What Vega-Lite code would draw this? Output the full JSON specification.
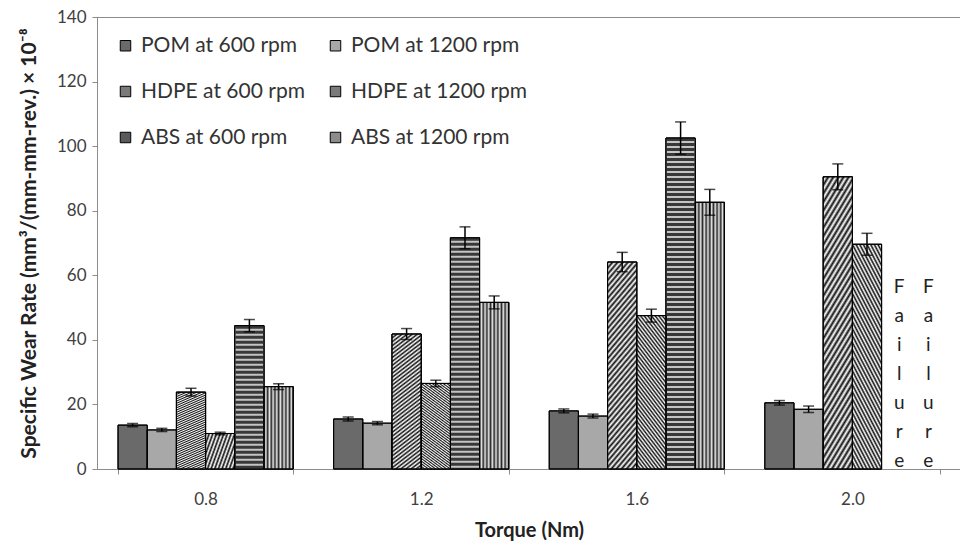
{
  "$schema": "https://vega.github.io/schema/vega-lite/v6.json",
  "width": 864,
  "height": 452,
  "autosize": "none",
  "padding": {"left": 97, "top": 17, "right": 0, "bottom": 76},
  "background": "white",
  "config": {
    "font": "Lato",
    "view": {"stroke": "#8c8c8c", "strokeWidth": 1},
    "axis": {
      "domainColor": "#8c8c8c",
      "tickColor": "#8c8c8c",
      "tickSize": 5,
      "labelFont": "Lato",
      "labelFontSize": 17,
      "labelColor": "#404040",
      "titleFont": "Lato",
      "titleFontSize": 20,
      "titleFontWeight": "bold",
      "titleColor": "#222222",
      "grid": false
    }
  },
  "params": [
    {"name": "gH6", "value": {"gradient": "linear", "x1": 0, "y1": 0, "x2": 0.189, "y2": 1.135, "stops": [{"offset":0,"color":"#111"},{"offset":0.0125,"color":"#fff"},{"offset":0.025,"color":"#111"},{"offset":0.0375,"color":"#fff"},{"offset":0.05,"color":"#111"},{"offset":0.0625,"color":"#fff"},{"offset":0.075,"color":"#111"},{"offset":0.0875,"color":"#fff"},{"offset":0.1,"color":"#111"},{"offset":0.1125,"color":"#fff"},{"offset":0.125,"color":"#111"},{"offset":0.1375,"color":"#fff"},{"offset":0.15,"color":"#111"},{"offset":0.1625,"color":"#fff"},{"offset":0.175,"color":"#111"},{"offset":0.1875,"color":"#fff"},{"offset":0.2,"color":"#111"},{"offset":0.2125,"color":"#fff"},{"offset":0.225,"color":"#111"},{"offset":0.2375,"color":"#fff"},{"offset":0.25,"color":"#111"},{"offset":0.2625,"color":"#fff"},{"offset":0.275,"color":"#111"},{"offset":0.2875,"color":"#fff"},{"offset":0.3,"color":"#111"},{"offset":0.3125,"color":"#fff"},{"offset":0.325,"color":"#111"},{"offset":0.3375,"color":"#fff"},{"offset":0.35,"color":"#111"},{"offset":0.3625,"color":"#fff"},{"offset":0.375,"color":"#111"},{"offset":0.3875,"color":"#fff"},{"offset":0.4,"color":"#111"},{"offset":0.4125,"color":"#fff"},{"offset":0.425,"color":"#111"},{"offset":0.4375,"color":"#fff"},{"offset":0.45,"color":"#111"},{"offset":0.4625,"color":"#fff"},{"offset":0.475,"color":"#111"},{"offset":0.4875,"color":"#fff"},{"offset":0.5,"color":"#111"},{"offset":0.5125,"color":"#fff"},{"offset":0.525,"color":"#111"},{"offset":0.5375,"color":"#fff"},{"offset":0.55,"color":"#111"},{"offset":0.5625,"color":"#fff"},{"offset":0.575,"color":"#111"},{"offset":0.5875,"color":"#fff"},{"offset":0.6,"color":"#111"},{"offset":0.6125,"color":"#fff"},{"offset":0.625,"color":"#111"},{"offset":0.6375,"color":"#fff"},{"offset":0.65,"color":"#111"},{"offset":0.6625,"color":"#fff"},{"offset":0.675,"color":"#111"},{"offset":0.6875,"color":"#fff"},{"offset":0.7,"color":"#111"},{"offset":0.7125,"color":"#fff"},{"offset":0.725,"color":"#111"},{"offset":0.7375,"color":"#fff"},{"offset":0.75,"color":"#111"},{"offset":0.7625,"color":"#fff"},{"offset":0.775,"color":"#111"},{"offset":0.7875,"color":"#fff"},{"offset":0.8,"color":"#111"},{"offset":0.8125,"color":"#fff"},{"offset":0.825,"color":"#111"},{"offset":0.8375,"color":"#fff"},{"offset":0.85,"color":"#111"},{"offset":0.8625,"color":"#fff"},{"offset":0.875,"color":"#111"},{"offset":0.8875,"color":"#fff"},{"offset":0.9,"color":"#111"},{"offset":0.9125,"color":"#fff"},{"offset":0.925,"color":"#111"},{"offset":0.9375,"color":"#fff"},{"offset":0.95,"color":"#111"},{"offset":0.9625,"color":"#fff"},{"offset":0.975,"color":"#111"},{"offset":0.9875,"color":"#fff"},{"offset":1,"color":"#111"}]}},
    {"name": "gH12", "value": {"gradient": "linear", "x1": 0, "y1": 1, "x2": 0.294, "y2": -0.176, "stops": [{"offset":0,"color":"#111"},{"offset":0.0125,"color":"#fff"},{"offset":0.025,"color":"#111"},{"offset":0.0375,"color":"#fff"},{"offset":0.05,"color":"#111"},{"offset":0.0625,"color":"#fff"},{"offset":0.075,"color":"#111"},{"offset":0.0875,"color":"#fff"},{"offset":0.1,"color":"#111"},{"offset":0.1125,"color":"#fff"},{"offset":0.125,"color":"#111"},{"offset":0.1375,"color":"#fff"},{"offset":0.15,"color":"#111"},{"offset":0.1625,"color":"#fff"},{"offset":0.175,"color":"#111"},{"offset":0.1875,"color":"#fff"},{"offset":0.2,"color":"#111"},{"offset":0.2125,"color":"#fff"},{"offset":0.225,"color":"#111"},{"offset":0.2375,"color":"#fff"},{"offset":0.25,"color":"#111"},{"offset":0.2625,"color":"#fff"},{"offset":0.275,"color":"#111"},{"offset":0.2875,"color":"#fff"},{"offset":0.3,"color":"#111"},{"offset":0.3125,"color":"#fff"},{"offset":0.325,"color":"#111"},{"offset":0.3375,"color":"#fff"},{"offset":0.35,"color":"#111"},{"offset":0.3625,"color":"#fff"},{"offset":0.375,"color":"#111"},{"offset":0.3875,"color":"#fff"},{"offset":0.4,"color":"#111"},{"offset":0.4125,"color":"#fff"},{"offset":0.425,"color":"#111"},{"offset":0.4375,"color":"#fff"},{"offset":0.45,"color":"#111"},{"offset":0.4625,"color":"#fff"},{"offset":0.475,"color":"#111"},{"offset":0.4875,"color":"#fff"},{"offset":0.5,"color":"#111"},{"offset":0.5125,"color":"#fff"},{"offset":0.525,"color":"#111"},{"offset":0.5375,"color":"#fff"},{"offset":0.55,"color":"#111"},{"offset":0.5625,"color":"#fff"},{"offset":0.575,"color":"#111"},{"offset":0.5875,"color":"#fff"},{"offset":0.6,"color":"#111"},{"offset":0.6125,"color":"#fff"},{"offset":0.625,"color":"#111"},{"offset":0.6375,"color":"#fff"},{"offset":0.65,"color":"#111"},{"offset":0.6625,"color":"#fff"},{"offset":0.675,"color":"#111"},{"offset":0.6875,"color":"#fff"},{"offset":0.7,"color":"#111"},{"offset":0.7125,"color":"#fff"},{"offset":0.725,"color":"#111"},{"offset":0.7375,"color":"#fff"},{"offset":0.75,"color":"#111"},{"offset":0.7625,"color":"#fff"},{"offset":0.775,"color":"#111"},{"offset":0.7875,"color":"#fff"},{"offset":0.8,"color":"#111"},{"offset":0.8125,"color":"#fff"},{"offset":0.825,"color":"#111"},{"offset":0.8375,"color":"#fff"},{"offset":0.85,"color":"#111"},{"offset":0.8625,"color":"#fff"},{"offset":0.875,"color":"#111"},{"offset":0.8875,"color":"#fff"},{"offset":0.9,"color":"#111"},{"offset":0.9125,"color":"#fff"},{"offset":0.925,"color":"#111"},{"offset":0.9375,"color":"#fff"},{"offset":0.95,"color":"#111"},{"offset":0.9625,"color":"#fff"},{"offset":0.975,"color":"#111"},{"offset":0.9875,"color":"#fff"},{"offset":1,"color":"#111"}]}},
    {"name": "gA12", "value": {"gradient": "linear", "x1": 0, "y1": 0, "x2": 1, "y2": 0, "stops": [{"offset":0,"color":"#2b2b2b"},{"offset":0.0625,"color":"#e6e6e6"},{"offset":0.125,"color":"#2b2b2b"},{"offset":0.1875,"color":"#e6e6e6"},{"offset":0.25,"color":"#2b2b2b"},{"offset":0.3125,"color":"#e6e6e6"},{"offset":0.375,"color":"#2b2b2b"},{"offset":0.4375,"color":"#e6e6e6"},{"offset":0.5,"color":"#2b2b2b"},{"offset":0.5625,"color":"#e6e6e6"},{"offset":0.625,"color":"#2b2b2b"},{"offset":0.6875,"color":"#e6e6e6"},{"offset":0.75,"color":"#2b2b2b"},{"offset":0.8125,"color":"#e6e6e6"},{"offset":0.875,"color":"#2b2b2b"},{"offset":0.9375,"color":"#e6e6e6"},{"offset":1,"color":"#2b2b2b"}]}}
  ],
  "datasets": {
    "bars": [
      {"torque": "0.8", "series": "POM at 600 rpm", "rate": 13.6, "lo": 13.1, "hi": 14.1},
      {"torque": "0.8", "series": "POM at 1200 rpm", "rate": 12.1, "lo": 11.6, "hi": 12.6},
      {"torque": "0.8", "series": "HDPE at 600 rpm", "rate": 23.8, "lo": 22.6, "hi": 25.0},
      {"torque": "0.8", "series": "HDPE at 1200 rpm", "rate": 11.0, "lo": 10.6, "hi": 11.4},
      {"torque": "0.8", "series": "ABS at 600 rpm", "rate": 44.4, "lo": 42.5, "hi": 46.3},
      {"torque": "0.8", "series": "ABS at 1200 rpm", "rate": 25.5, "lo": 24.6, "hi": 26.4},
      {"torque": "1.2", "series": "POM at 600 rpm", "rate": 15.5, "lo": 14.9, "hi": 16.1},
      {"torque": "1.2", "series": "POM at 1200 rpm", "rate": 14.2, "lo": 13.7, "hi": 14.7},
      {"torque": "1.2", "series": "HDPE at 600 rpm", "rate": 41.8, "lo": 40.1, "hi": 43.5},
      {"torque": "1.2", "series": "HDPE at 1200 rpm", "rate": 26.5, "lo": 25.5, "hi": 27.5},
      {"torque": "1.2", "series": "ABS at 600 rpm", "rate": 71.6, "lo": 68.2, "hi": 75.0},
      {"torque": "1.2", "series": "ABS at 1200 rpm", "rate": 51.6, "lo": 49.6, "hi": 53.6},
      {"torque": "1.6", "series": "POM at 600 rpm", "rate": 18.0, "lo": 17.4, "hi": 18.6},
      {"torque": "1.6", "series": "POM at 1200 rpm", "rate": 16.4, "lo": 15.8, "hi": 17.0},
      {"torque": "1.6", "series": "HDPE at 600 rpm", "rate": 64.1, "lo": 61.1, "hi": 67.1},
      {"torque": "1.6", "series": "HDPE at 1200 rpm", "rate": 47.5, "lo": 45.5, "hi": 49.5},
      {"torque": "1.6", "series": "ABS at 600 rpm", "rate": 102.5, "lo": 97.5, "hi": 107.5},
      {"torque": "1.6", "series": "ABS at 1200 rpm", "rate": 82.6, "lo": 78.6, "hi": 86.6},
      {"torque": "2.0", "series": "POM at 600 rpm", "rate": 20.5, "lo": 19.8, "hi": 21.2},
      {"torque": "2.0", "series": "POM at 1200 rpm", "rate": 18.5, "lo": 17.5, "hi": 19.5},
      {"torque": "2.0", "series": "HDPE at 600 rpm", "rate": 90.5, "lo": 86.5, "hi": 94.5},
      {"torque": "2.0", "series": "HDPE at 1200 rpm", "rate": 69.6, "lo": 66.2, "hi": 73.0}
    ],
    "notes": [
      {"torque": "2.0", "series": "ABS at 600 rpm", "label": "F a i l u r e"},
      {"torque": "2.0", "series": "ABS at 1200 rpm", "label": "F a i l u r e"}
    ]
  },
  "data": {"name": "bars"},
  "encoding": {
    "x": {
      "field": "torque",
      "type": "nominal",
      "scale": {"domain": ["0.8", "1.2", "1.6", "2.0"], "paddingInner": 0.1875, "paddingOuter": 0.0975},
      "axis": {"labelAngle": 0, "tickBand": "extent", "labelPadding": 17, "titlePadding": 13},
      "title": "Torque (Nm)"
    },
    "xOffset": {
      "field": "series",
      "type": "nominal",
      "scale": {
        "domain": ["POM at 600 rpm", "POM at 1200 rpm", "HDPE at 600 rpm", "HDPE at 1200 rpm", "ABS at 600 rpm", "ABS at 1200 rpm"],
        "paddingInner": 0,
        "paddingOuter": 0
      }
    }
  },
  "layer": [
    {
      "mark": {"type": "bar", "stroke": "#000000", "strokeWidth": 1},
      "encoding": {
        "y": {
          "field": "rate",
          "type": "quantitative",
          "scale": {"domain": [0, 140]},
          "axis": {"values": [0, 20, 40, 60, 80, 100, 120, 140], "labelPadding": 6, "titlePadding": 17, "titleFontSize": 21},
          "title": "Specific Wear Rate (mm³/(mm-mm-rev.) × 10⁻⁸"
        },
        "fill": {
          "field": "series",
          "type": "nominal",
          "scale": {
            "domain": ["POM at 600 rpm", "POM at 1200 rpm", "HDPE at 600 rpm", "HDPE at 1200 rpm", "ABS at 600 rpm", "ABS at 1200 rpm"],
            "range": ["#6a6a6a", "#a8a8a8", "#7a7a7a", "#7a7a7a", "#5a5a5a", "#8c8c8c"]
          },
          "legend": {
            "title": null,
            "orient": "none",
            "legendX": 18,
            "legendY": 18,
            "columns": 2,
            "direction": "horizontal",
            "symbolType": "square",
            "symbolSize": 110,
            "symbolStrokeColor": "#000000",
            "symbolStrokeWidth": 1,
            "labelFont": "Lato",
            "labelFontSize": 21,
            "labelLimit": 400,
            "labelColor": "#333333",
            "labelOffset": 5,
            "rowPadding": 24,
            "columnPadding": 20
          }
        }
      }
    },
    {
      "transform": [{"filter": "datum.series === 'ABS at 600 rpm'"}],
      "mark": {"type": "bar", "fill": "#c4c4c4", "stroke": "#000000", "strokeWidth": 1},
      "encoding": {"y": {"field": "rate", "type": "quantitative"}}
    },
    {
      "transform": [{"filter": "datum.series === 'HDPE at 600 rpm'"}],
      "mark": {"type": "bar", "fill": {"expr": "gH6"}, "stroke": "#000000", "strokeWidth": 1},
      "encoding": {"y": {"field": "rate", "type": "quantitative"}}
    },
    {
      "transform": [{"filter": "datum.series === 'HDPE at 1200 rpm'"}],
      "mark": {"type": "bar", "fill": {"expr": "gH12"}, "stroke": "#000000", "strokeWidth": 1},
      "encoding": {"y": {"field": "rate", "type": "quantitative"}}
    },
    {
      "transform": [{"filter": "datum.series === 'ABS at 1200 rpm'"}],
      "mark": {"type": "bar", "fill": {"expr": "gA12"}, "stroke": "#000000", "strokeWidth": 1},
      "encoding": {"y": {"field": "rate", "type": "quantitative"}}
    },
    {
      "transform": [{"filter": "datum.series === 'ABS at 600 rpm'"}],
      "mark": {"type": "rule", "strokeWidth": 28, "strokeDash": [3, 2], "color": "#383838"},
      "encoding": {
        "y": {"field": "rate", "type": "quantitative"},
        "y2": {"datum": 0}
      }
    },
    {
      "mark": {"type": "bar", "fillOpacity": 0, "stroke": "#000000", "strokeWidth": 1},
      "encoding": {
        "y": {"field": "rate", "type": "quantitative"}
      }
    },
    {
      "mark": {"type": "rule", "color": "#000000", "strokeWidth": 1.5},
      "encoding": {
        "y": {"field": "lo", "type": "quantitative"},
        "y2": {"field": "hi"}
      }
    },
    {
      "mark": {"type": "tick", "color": "#000000", "thickness": 1.5, "size": 11, "orient": "horizontal"},
      "encoding": {
        "y": {"field": "hi", "type": "quantitative"}
      }
    },
    {
      "mark": {"type": "tick", "color": "#000000", "thickness": 1.5, "size": 11, "orient": "horizontal"},
      "encoding": {
        "y": {"field": "lo", "type": "quantitative"}
      }
    },
    {
      "data": {"name": "notes"},
      "mark": {"type": "text", "font": "Lato", "fontSize": 19, "color": "#222222", "lineBreak": " ", "lineHeight": 29, "baseline": "bottom", "align": "center", "dx": 3, "dy": -172},
      "encoding": {
        "y": {"datum": 0, "type": "quantitative"},
        "text": {"field": "label"}
      }
    }
  ]
}
